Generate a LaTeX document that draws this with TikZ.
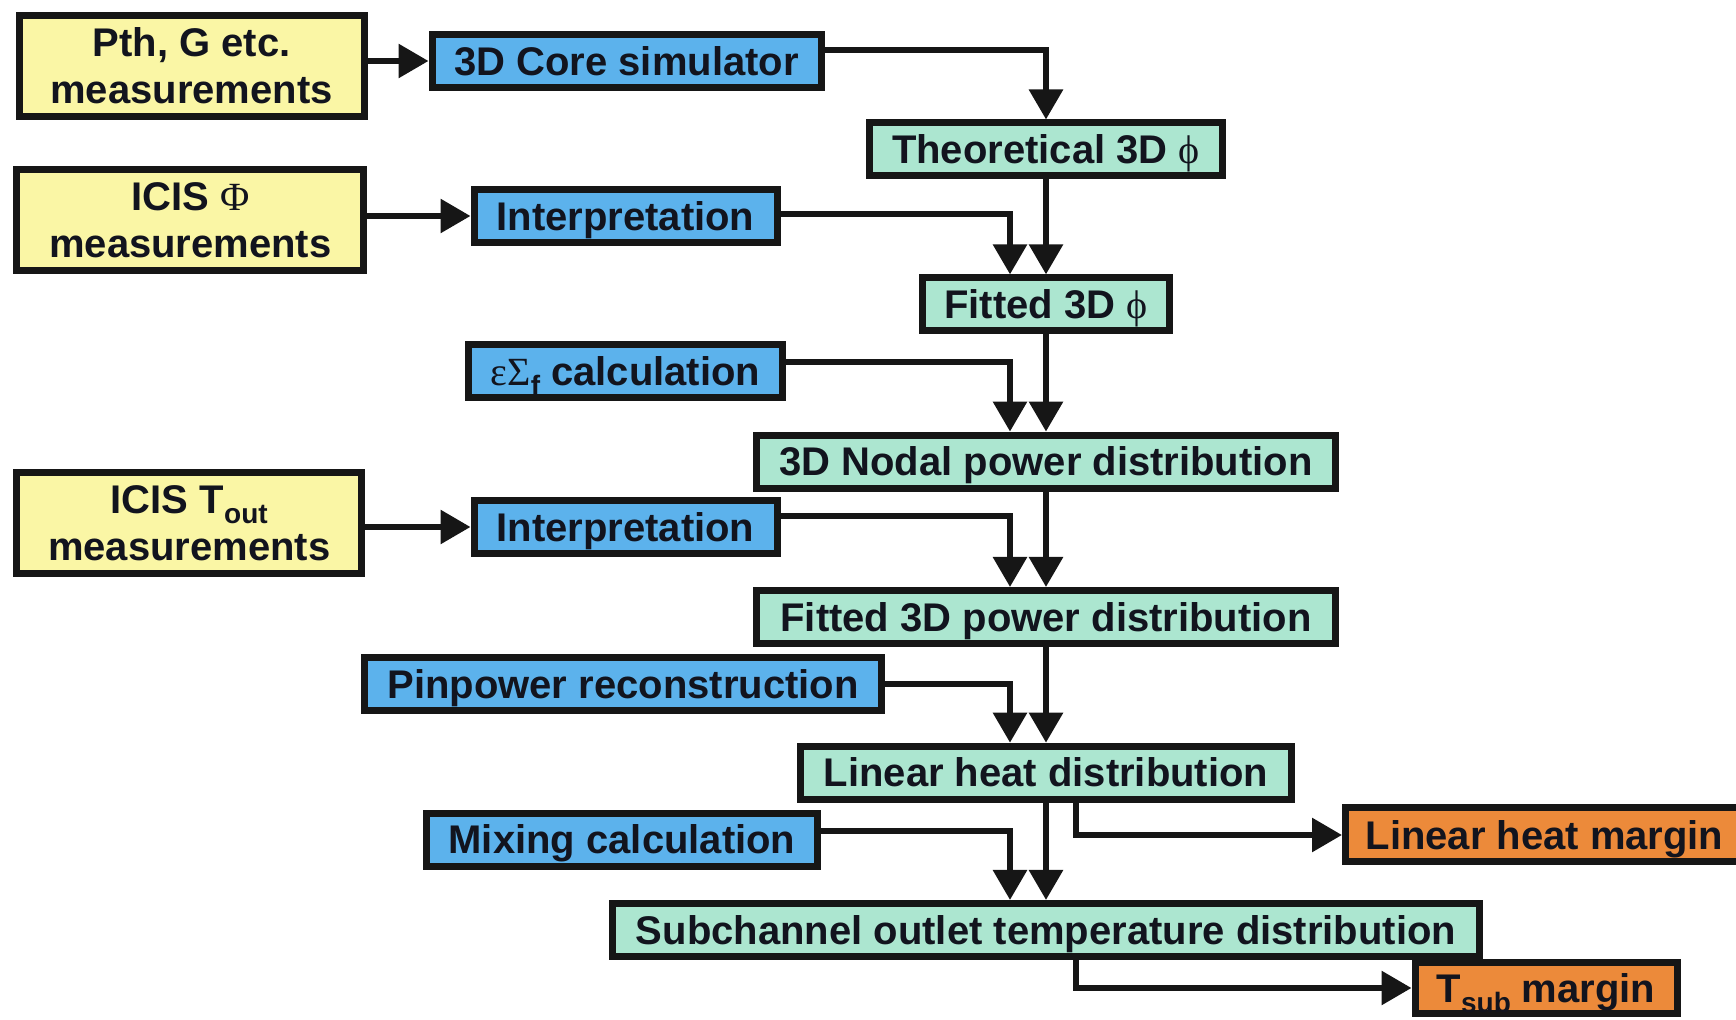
\documentclass[tikz,border=0pt]{standalone}
\usepackage{fontspec}
\setmainfont{Liberation Sans}
\newfontfamily\grk{Liberation Serif}
\usetikzlibrary{arrows.meta}
\definecolor{measfill}{RGB}{250,246,165}
\definecolor{procfill}{RGB}{92,178,236}
\definecolor{distfill}{RGB}{172,230,208}
\definecolor{margfill}{RGB}{236,138,58}
\definecolor{boxline}{RGB}{22,22,22}
\definecolor{textcol}{RGB}{18,20,30}
\newcommand{\lowsub}[1]{\raisebox{-5pt}{\fontsize{14}{14}\selectfont #1}}
\begin{document}
\begin{tikzpicture}[x=0.5pt,y=-0.5pt,
  box/.style={draw=boxline, line width=3.5pt, inner sep=0pt, minimum height=26.5pt,
    font=\fontsize{20}{23.5}\selectfont\bfseries, text=textcol, align=center},
  meas/.style={box, fill=measfill, minimum height=50.5pt},
  oneline/.style={box, text height=16pt, text depth=1.7pt},
  proc/.style={oneline, fill=procfill},
  dist/.style={oneline, fill=distfill},
  marg/.style={oneline, fill=margfill},
  arr/.style={line width=3pt, draw=boxline, -{Triangle[length=15pt,width=16.5pt]}},
]
\useasboundingbox (0,0) rectangle (1736,1020);

% input measurements
\node[meas, minimum width=172.5pt] (pth) at (191.5,66) {Pth, G etc.\\measurements};
\node[meas, minimum width=173.5pt] (icisphi) at (190.4,220.5) {ICIS {\grk\mdseries Φ}\\measurements};
\node[meas, minimum width=172.5pt] (icist) at (189.3,523.5) {ICIS T\lowsub{out}\\measurements};

% processing steps
\node[proc, minimum width=194.5pt] (core) at (626.5,61) {3D Core simulator};
\node[proc, minimum width=151.5pt] (interpA) at (625.5,216) {Interpretation};
\node[proc, minimum width=157pt] (eps) at (625.5,371) {{\grk\mdseries εΣ}\lowsub{f} calculation};
\node[proc, minimum width=151.5pt] (interpB) at (625.5,527) {Interpretation};
\node[proc, minimum width=258.8pt] (pin) at (623,684) {Pinpower reconstruction};
\node[proc, minimum width=195.7pt] (mix) at (622,839.6) {Mixing calculation};

% distributions along the main chain
\node[dist, minimum width=176.5pt] (theo) at (1046,149.5) {Theoretical 3D {\grk\mdseries ϕ}};
\node[dist, minimum width=123.8pt] (fitphi) at (1046,304.4) {Fitted 3D {\grk\mdseries ϕ}};
\node[dist, minimum width=289.8pt] (nodal) at (1046,461.6) {3D Nodal power distribution};
\node[dist, minimum width=289.8pt] (fitpow) at (1046,617) {Fitted 3D power distribution};
\node[dist, minimum width=245.5pt] (lin) at (1046,772.7) {Linear heat distribution};
\node[dist, minimum width=433.8pt] (sub) at (1046,930) {Subchannel outlet temperature distribution};

% resulting margins
\node[marg, minimum width=199pt, minimum height=27pt] (lhm) at (1544.5,835) {Linear heat margin};
\node[marg, minimum width=131pt, minimum height=25.8pt] (tsub) at (1546,988) {T\lowsub{sub} margin};

% measurement inputs
\draw[arr] (core.west -| pth.east) -- (core.west);
\draw[arr] (interpA.west -| icisphi.east) -- (interpA.west);
\draw[arr] (interpB.west -| icist.east) -- (interpB.west);

% main chain
\draw[arr] ([yshift=5.6pt]core.east) -| (theo.north);
\draw[arr] (theo.south) -- (fitphi.north);
\draw[arr] (fitphi.south) -- (nodal.north);
\draw[arr] (nodal.south) -- (fitpow.north);
\draw[arr] (fitpow.south) -- (lin.north);
\draw[arr] (lin.south) -- (sub.north);

% side inputs
\draw[arr] ([yshift=1pt]interpA.east) -| ([xshift=-18pt]fitphi.north);
\draw[arr] ([yshift=4.5pt]eps.east) -| ([xshift=-18pt]nodal.north);
\draw[arr] ([yshift=5.5pt]interpB.east) -| ([xshift=-18pt]fitpow.north);
\draw[arr] (pin.east) -| ([xshift=-18pt]lin.north);
\draw[arr] ([yshift=4.3pt]mix.east) -| ([xshift=-18pt]sub.north);

% margin outputs
\draw[arr] ([xshift=15pt]lin.south) |- (lhm.west);
\draw[arr] ([xshift=15pt]sub.south) |- (tsub.west);
\end{tikzpicture}
\end{document}
